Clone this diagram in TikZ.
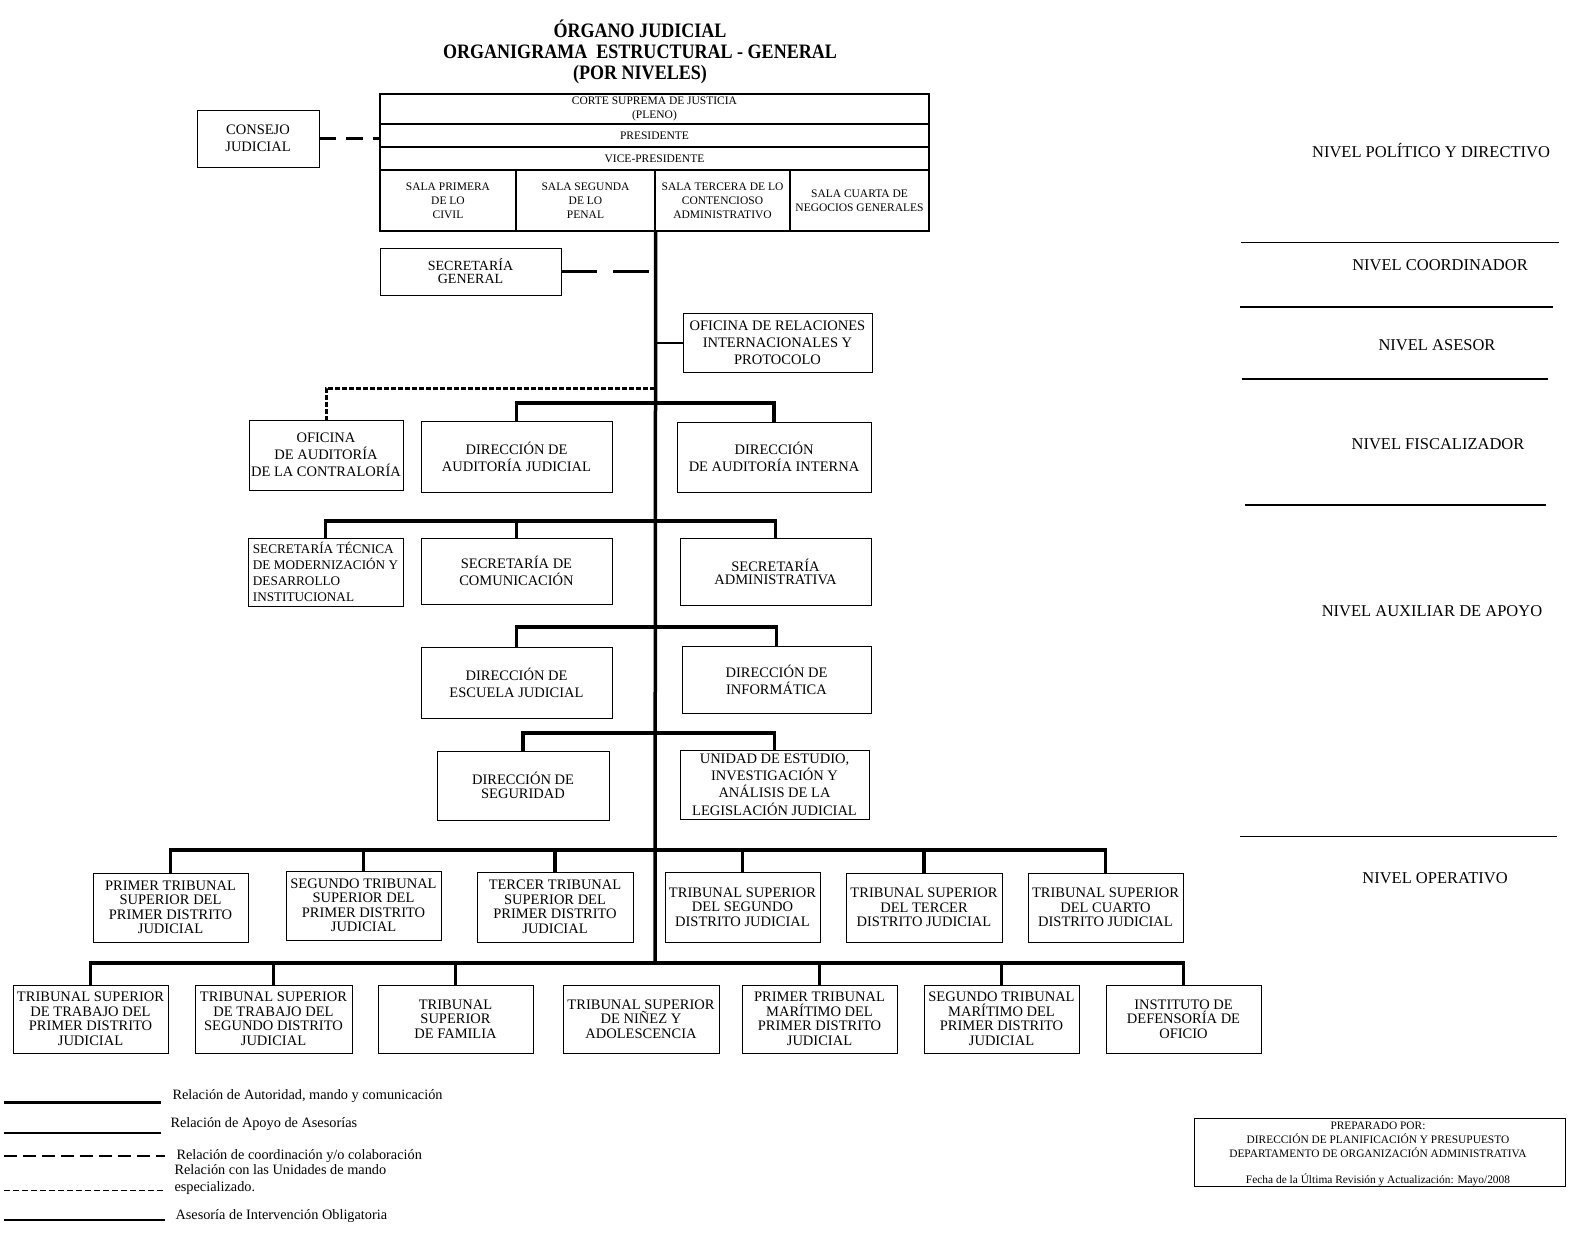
\documentclass[tikz,border=0pt]{standalone}
\usepackage{fontspec}
\setmainfont{Liberation Serif}
\newfontfamily\titulofont[FakeStretch=0.88]{Liberation Serif}
\tikzset{
  unidad/.style={draw, line width=0.9pt, inner sep=1pt, align=center, font=\fontsize{14.5}{17}\selectfont},
  trib/.style={unidad, font=\fontsize{14.5}{14.5}\selectfont},
  cabeza/.style={draw, line width=1.3pt, inner sep=0pt, align=center, font=\fontsize{11.5}{14}\selectfont},
  mando/.style={line width=3.5pt},
  apoyo/.style={line width=2pt},
  coordina/.style={line width=3pt, dash pattern=on 17pt off 10pt},
  especial/.style={line width=3pt, dash pattern=on 5pt off 2pt},
  nivel/.style={font=\fontsize{16.5}{18}\selectfont},
  leyenda/.style={anchor=west, align=left, font=\fontsize{14.3}{17}\selectfont}
}
\begin{document}
\begin{tikzpicture}[x=1pt, y=-1pt]
  \useasboundingbox[fill=white] (0,0) rectangle (1584,1240);
  % titulo
  \node[align=center, font=\titulofont\bfseries\fontsize{20.5}{21}\selectfont] (titulo) at (640,52)
    {ÓRGANO JUDICIAL\\ORGANIGRAMA\ \ ESTRUCTURAL - GENERAL\\(POR NIVELES)};
  % corte suprema
  \node[cabeza, minimum width=549, minimum height=30] (csj) at (654.5,109) {CORTE SUPREMA DE JUSTICIA\\(PLENO)};
  \node[cabeza, minimum width=549, minimum height=23] (pres) at (654.5,135.5) {PRESIDENTE};
  \node[cabeza, minimum width=549, minimum height=23] (vice) at (654.5,158.5) {VICE-PRESIDENTE};
  \node[cabeza, minimum width=136, minimum height=61] (s1) at (448,200.5) {SALA PRIMERA\\DE LO\\CIVIL};
  \node[cabeza, minimum width=139, minimum height=61] (s2) at (585.5,200.5) {SALA SEGUNDA\\DE LO\\PENAL};
  \node[cabeza, minimum width=135, minimum height=61] (s3) at (722.5,200.5) {SALA TERCERA DE LO\\CONTENCIOSO\\ADMINISTRATIVO};
  \node[cabeza, minimum width=139, minimum height=61] (s4) at (859.5,200.5) {SALA CUARTA DE\\NEGOCIOS GENERALES};
  \node[unidad, minimum width=122, minimum height=57] (cj) at (258,138.5) {CONSEJO\\JUDICIAL};
  % unidades
  \node[unidad, minimum width=181, minimum height=47, font=\fontsize{14}{13}\selectfont] (sg) at (470.5,271.5) {SECRETARÍA\\GENERAL};
  \node[unidad, minimum width=189, minimum height=59] (orip) at (777.5,342.5) {OFICINA DE RELACIONES\\INTERNACIONALES Y\\PROTOCOLO};
  \node[unidad, minimum width=154, minimum height=70] (oac) at (326,455) {OFICINA\\DE AUDITORÍA\\DE LA CONTRALORÍA};
  \node[unidad, minimum width=191, minimum height=71] (daj) at (516.5,456.5) {DIRECCIÓN DE\\AUDITORÍA JUDICIAL};
  \node[unidad, minimum width=194, minimum height=70] (dai) at (774,457) {DIRECCIÓN\\DE AUDITORÍA INTERNA};
  \node[unidad, minimum width=155, minimum height=68, align=left, font=\fontsize{13.2}{16}\selectfont] (stm) at (325.5,572) {SECRETARÍA TÉCNICA\\DE MODERNIZACIÓN Y\\DESARROLLO\\INSTITUCIONAL};
  \node[unidad, minimum width=191, minimum height=66] (scom) at (516.5,571) {SECRETARÍA DE\\COMUNICACIÓN};
  \node[unidad, minimum width=191, minimum height=67, font=\fontsize{14.5}{13}\selectfont] (sad) at (775.5,571.5) {SECRETARÍA\\ADMINISTRATIVA};
  \node[unidad, minimum width=191, minimum height=71] (dej) at (516.5,682.5) {DIRECCIÓN DE\\ESCUELA JUDICIAL};
  \node[unidad, minimum width=189, minimum height=67] (dinf) at (776.5,679.5) {DIRECCIÓN DE\\INFORMÁTICA};
  \node[unidad, minimum width=172, minimum height=69, font=\fontsize{14.5}{13.5}\selectfont] (dseg) at (523,785.5) {DIRECCIÓN DE\\SEGURIDAD};
  \node[unidad, minimum width=189, minimum height=69, font=\fontsize{14.5}{17.3}\selectfont] (ueil) at (774.5,784.5) {UNIDAD DE ESTUDIO,\\INVESTIGACIÓN Y\\ANÁLISIS DE LA\\LEGISLACIÓN JUDICIAL};
  % tribunales
  \node[trib, minimum width=155, minimum height=69] (t1) at (170.5,907.5) {PRIMER TRIBUNAL\\SUPERIOR DEL\\PRIMER DISTRITO\\JUDICIAL};
  \node[trib, minimum width=155, minimum height=69] (t2) at (363.5,905.5) {SEGUNDO TRIBUNAL\\SUPERIOR DEL\\PRIMER DISTRITO\\JUDICIAL};
  \node[trib, minimum width=156, minimum height=70] (t3) at (555,907) {TERCER TRIBUNAL\\SUPERIOR DEL\\PRIMER DISTRITO\\JUDICIAL};
  \node[trib, minimum width=155, minimum height=70] (t4) at (742.5,907) {TRIBUNAL SUPERIOR\\DEL SEGUNDO\\DISTRITO JUDICIAL};
  \node[trib, minimum width=156, minimum height=69] (t5) at (924,907.5) {TRIBUNAL SUPERIOR\\DEL TERCER\\DISTRITO JUDICIAL};
  \node[trib, minimum width=155, minimum height=69] (t6) at (1105.5,907.5) {TRIBUNAL SUPERIOR\\DEL CUARTO\\DISTRITO JUDICIAL};
  \node[trib, minimum width=155, minimum height=68] (u1) at (90.5,1019) {TRIBUNAL SUPERIOR\\DE TRABAJO DEL\\PRIMER DISTRITO\\JUDICIAL};
  \node[trib, minimum width=157, minimum height=68] (u2) at (273.5,1019) {TRIBUNAL SUPERIOR\\DE TRABAJO DEL\\SEGUNDO DISTRITO\\JUDICIAL};
  \node[trib, minimum width=155, minimum height=68] (u3) at (455.5,1019) {TRIBUNAL\\SUPERIOR\\DE FAMILIA};
  \node[trib, minimum width=156, minimum height=68] (u4) at (641,1019) {TRIBUNAL SUPERIOR\\DE NIÑEZ Y\\ADOLESCENCIA};
  \node[trib, minimum width=155, minimum height=68] (u5) at (819.5,1019) {PRIMER TRIBUNAL\\MARÍTIMO DEL\\PRIMER DISTRITO\\JUDICIAL};
  \node[trib, minimum width=155, minimum height=68] (u6) at (1001.5,1019) {SEGUNDO TRIBUNAL\\MARÍTIMO DEL\\PRIMER DISTRITO\\JUDICIAL};
  \node[trib, minimum width=155, minimum height=68] (u7) at (1183.5,1019) {INSTITUTO DE\\DEFENSORÍA DE\\OFICIO};
  % lineas de mando
  \coordinate (top) at (s2.south east);
  \coordinate (rc) at (655,388);
  \coordinate (r1) at (655,403);
  \coordinate (r2) at (655,521);
  \coordinate (r3) at (655,627);
  \coordinate (r4) at (655,733);
  \coordinate (r5) at (655,850);
  \coordinate (r6) at (655,963);
  \draw[mando] (top) -- (r6);
  \draw[coordina] (cj.east) -- (cj.east -| csj.west);
  \draw[line width=3pt, dash pattern=on 36pt off 16pt] (sg.east) -- (sg.east -| top);
  \draw[apoyo] (orip.west) -- (orip.west -| top);
  \draw[especial] (rc) -| (oac.north);
  \draw[mando] (daj.north) |- (r1) -| (dai.north);
  \draw[mando] (stm.north) |- (r2) -| (sad.north);
  \draw[mando] (scom.north) -- (scom.north |- r2);
  \draw[mando] (dej.north) |- (r3) -| (dinf.north);
  \draw[mando] (dseg.north) |- (r4) -| (ueil.north);
  \draw[mando] (t1.north) |- (r5) -| (t6.north);
  \foreach \n in {t2,t3,t4,t5}
    \draw[mando] (\n.north) -- (\n.north |- r5);
  \draw[mando] (u1.north) |- (r6) -| (u7.north);
  \foreach \n in {u2,u3,u5,u6}
    \draw[mando] (\n.north) -- (\n.north |- r6);
  % niveles
  \foreach \y/\a/\b/\w in {242/1241/1559/1,307/1240/1553/2,379/1242/1548/2,505/1245/1546/2,836/1240/1557/1}
    \draw[line width=\w pt] (\a,\y) -- (\b,\y);
  \node[nivel] (n1) at (1431,151) {NIVEL POLÍTICO Y DIRECTIVO};
  \node[nivel] (n2) at (1440,265) {NIVEL COORDINADOR};
  \node[nivel] (n3) at (1437,345) {NIVEL ASESOR};
  \node[nivel] (n4) at (1438,444) {NIVEL FISCALIZADOR};
  \node[nivel] (n5) at (1432,611) {NIVEL AUXILIAR DE APOYO};
  \node[nivel] (n6) at (1435,878) {NIVEL OPERATIVO};
  % leyenda
  \draw[mando, line width=3pt] (4,1102) -- (161,1102);
  \draw[apoyo] (4,1133) -- (161,1133);
  \draw[line width=2.5pt, dash pattern=on 13pt off 6pt] (4,1156) -- (165,1156);
  \draw[line width=1pt, dash pattern=on 6pt off 3pt] (4,1190) -- (165,1190);
  \draw[apoyo] (4,1220) -- (165,1220);
  \node[leyenda] (l1) at (169,1096) {Relación de Autoridad, mando y comunicación};
  \node[leyenda] (l2) at (167,1124) {Relación de Apoyo de Asesorías};
  \node[leyenda] (l3) at (173,1156) {Relación de coordinación y/o colaboración};
  \node[leyenda] (l4) at (171,1179.5) {Relación con las Unidades de mando\\especializado.};
  \node[leyenda] (l5) at (172,1216) {Asesoría de Intervención Obligatoria};
  % preparado
  \node[draw, line width=0.9pt, minimum width=371, minimum height=68] (prep) at (1379.5,1152) {};
  \node[align=center, font=\fontsize{11.4}{14}\selectfont] (preptxt) at (1378,1154)
    {PREPARADO POR:\\DIRECCIÓN DE PLANIFICACIÓN Y PRESUPUESTO\\DEPARTAMENTO DE ORGANIZACIÓN ADMINISTRATIVA\\[12pt]Fecha de la Última Revisión y Actualización: Mayo/2008};
\end{tikzpicture}
\end{document}
